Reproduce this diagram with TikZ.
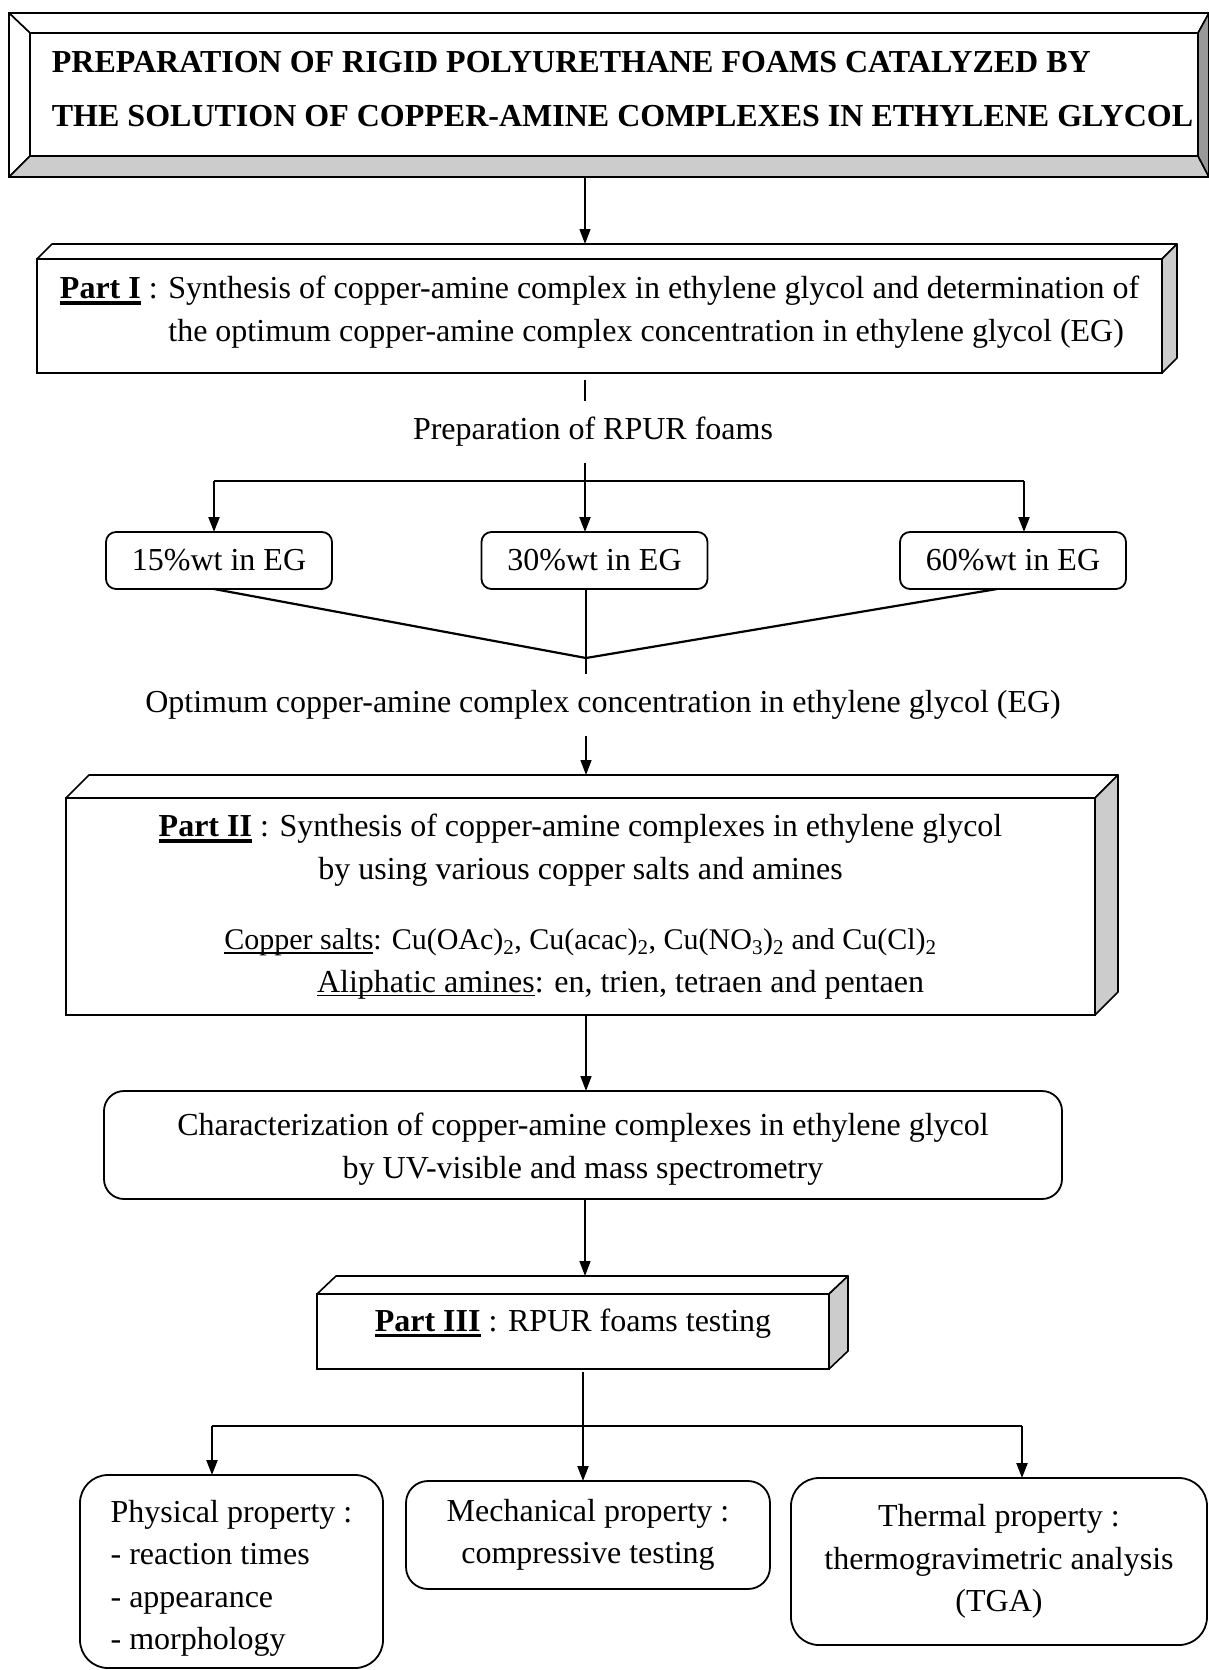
\documentclass[tikz,border=0pt]{standalone}
\usepackage{fontspec}
\setmainfont{Liberation Serif}
\usetikzlibrary{arrows.meta}

\definecolor{facegray}{gray}{0.8}
\definecolor{bevelgray}{gray}{0.6}

\newcommand\bodyfont{\fontsize{32}{42.5}\selectfont}
\newcommand\headfont{\fontsize{32}{54}\selectfont\bfseries}
% thick underline for the part names, thin one for the list heads
\newcommand\partlabel[1]{\setbox0\hbox{\bfseries #1}\rlap{\rule[-6pt]{\wd0}{3.5pt}}\box0\relax}
\newcommand\listhead[1]{\setbox0\hbox{#1}\rlap{\rule[-4pt]{\wd0}{1.4pt}}\box0\relax}
% top and side faces of a slab box
\newcommand\slabfaces[3]{%
  \draw[faceline, fill=white] (#1.north west) -- ++(#2,-#3)
    -- ([shift={(#2,-#3)}]#1.north east) -- (#1.north east) -- cycle;
  \draw[faceline, fill=facegray] (#1.north east) -- ([shift={(#2,-#3)}]#1.north east)
    -- ([shift={(#2,-#3)}]#1.south east) -- (#1.south east) -- cycle;
}

\tikzset{
  every node/.style={font=\bodyfont, outer sep=0pt},
  titlebox/.style={draw, line width=1.5pt, fill=white, font=\headfont, align=left, inner sep=0pt},
  slab/.style={draw, line width=2.5pt, fill=white, inner sep=0pt},
  faceline/.style={line width=1.6pt, line join=round},
  roundbox/.style={draw, line width=1.8pt, inner sep=0pt},
  midtext/.style={inner xsep=0pt, inner ysep=16pt},
  link/.style={line width=1.4pt},
  bar/.style={line width=2.2pt},
  arr/.style={-{Triangle[length=15pt, width=11pt]}}
}

\begin{document}
\begin{tikzpicture}[x=1pt, y=-1pt]
  \useasboundingbox (0,0) rectangle (1209,1670);

  % Title frame
  \coordinate (frameNW) at (9,13);
  \coordinate (frameSE) at (1209,177);
  \node[titlebox, minimum width=1168pt, minimum height=123pt] (title) at (614,94.5)
    {\hspace*{17pt}PREPARATION OF RIGID POLYURETHANE FOAMS CATALYZED BY\\
     \hspace*{17pt}THE SOLUTION OF COPPER-AMINE COMPLEXES IN ETHYLENE GLYCOL\rule[-12pt]{0pt}{12pt}};
  \draw[faceline, fill=white] (frameNW) -- (frameNW -| frameSE) -- (title.north east) -- (title.north west) -- cycle;
  \draw[faceline, fill=white] (frameNW) -- (title.north west) -- (title.south west) -- (frameNW |- frameSE) -- cycle;
  \draw[faceline, fill=facegray] (frameNW |- frameSE) -- (title.south west) -- (title.south east) -- (frameSE) -- cycle;
  \draw[faceline, fill=bevelgray] (frameNW -| frameSE) -- (title.north east) -- (title.south east) -- (frameSE) -- cycle;
  \draw[line width=2.5pt] (frameNW) rectangle (frameSE);

  % Part I
  \node[slab, minimum width=1125pt, minimum height=114pt, align=left] (part1) at (599.5,316)
    {\partlabel{Part I} : Synthesis of copper-amine complex in ethylene glycol and determination of\\
     \hphantom{\partlabel{Part I} : }the optimum copper-amine complex concentration in ethylene glycol (EG)\rule[-15pt]{0pt}{15pt}};
  \slabfaces{part1}{15}{15}

  % Concentrations
  \node[midtext] (prep) at (593,432) {Preparation of RPUR foams};
  \node[roundbox, rounded corners=10pt, minimum width=226pt, minimum height=57pt] (wt15) at (219,560.5) {15\%wt in EG};
  \node[roundbox, rounded corners=10pt, minimum width=226pt, minimum height=57pt] (wt30) at (594.5,560.5) {30\%wt in EG};
  \node[roundbox, rounded corners=10pt, minimum width=226pt, minimum height=57pt] (wt60) at (1013,560.5) {60\%wt in EG};
  \node[midtext] (optimum) at (603,705) {Optimum copper-amine complex concentration in ethylene glycol (EG)};

  % Part II
  \node[slab, minimum width=1029pt, minimum height=217pt, align=center] (part2) at (580.5,906.5)
    {\partlabel{Part II} : Synthesis of copper-amine complexes in ethylene glycol\\
     by using various copper salts and amines\\[28pt]
     {\fontsize{30}{42.5}\selectfont\listhead{Copper salts}: Cu(OAc)\textsubscript{2}, Cu(acac)\textsubscript{2}, Cu(NO\textsubscript{3})\textsubscript{2} and Cu(Cl)\textsubscript{2}}\\
     \hspace*{80pt}\listhead{Aliphatic amines}: en, trien, tetraen and pentaen};
  \slabfaces{part2}{23}{23}

  % Characterization
  \node[roundbox, rounded corners=20pt, minimum width=958pt, minimum height=108pt, align=center] (charac) at (583,1145)
    {\rule{0pt}{31pt}Characterization of copper-amine complexes in ethylene glycol\\by UV-visible and mass spectrometry};

  % Part III
  \node[slab, minimum width=512pt, minimum height=75pt, text depth=23pt] (part3) at (573,1331.5)
    {\partlabel{Part III} : RPUR foams testing};
  \slabfaces{part3}{19}{18}

  % Properties
  \node[roundbox, rounded corners=28pt, minimum width=303pt, minimum height=193pt, align=left] (phys) at (231.5,1571.5)
    {\rule{0pt}{36pt}Physical property :\\- reaction times\\- appearance\\- morphology};
  \node[roundbox, rounded corners=22pt, minimum width=364pt, minimum height=108pt, align=center] (mech) at (588,1535)
    {Mechanical property :\\compressive testing};
  \node[roundbox, rounded corners=28pt, minimum width=416pt, minimum height=167pt, align=center] (therm) at (999,1561.5)
    {Thermal property :\\thermogravimetric analysis\\(TGA)};

  % Connectors
  \coordinate (spine) at (585,0);
  \coordinate (split1) at (585,481);
  \coordinate (split1L) at (214,481);
  \coordinate (split1R) at (1024,481);
  \coordinate (merge) at (586,658);
  \coordinate (split2) at (583,1426);
  \coordinate (split2L) at (212,1426);
  \coordinate (split2R) at (1022,1426);
  \coordinate (p1top) at ([yshift=15pt]part1.north);
  \coordinate (p1foot) at ([yshift=-7pt]part1.south);
  \coordinate (p2top) at ([yshift=23pt]part2.north);
  \coordinate (p3top) at ([yshift=18pt]part3.north);
  \coordinate (p3foot) at ([yshift=-3pt]part3.south);

  \draw[link, arr] (frameSE -| spine) -- (p1top -| spine);
  \draw[link] (p1foot -| spine) -- (prep.north -| spine);
  \draw[link] (prep.south -| spine) -- (split1);
  \draw[bar] (split1L) -- (split1R);
  \draw[bar, arr] (split1L) -- (split1L |- wt15.north);
  \draw[bar, arr] (split1) -- (split1 |- wt30.north);
  \draw[bar, arr] (split1R) -- (split1R |- wt60.north);
  \draw[bar] ([xshift=-5pt]wt15.south) -- (merge) -- ([xshift=-16pt]wt60.south);
  \draw[link] (wt30.south -| merge) -- (optimum.north -| merge);
  \draw[link, arr] (optimum.south -| merge) -- (p2top -| merge);
  \draw[link, arr] (part2.south -| merge) -- (charac.north -| merge);
  \draw[link, arr] (charac.south -| spine) -- (p3top -| spine);
  \draw[link] (p3foot -| split2) -- (split2);
  \draw[bar] (split2L) -- (split2R);
  \draw[bar, arr] (split2L) -- (split2L |- phys.north);
  \draw[bar, arr] (split2) -- (split2 |- mech.north);
  \draw[bar, arr] (split2R) -- (split2R |- therm.north);
\end{tikzpicture}
\end{document}
